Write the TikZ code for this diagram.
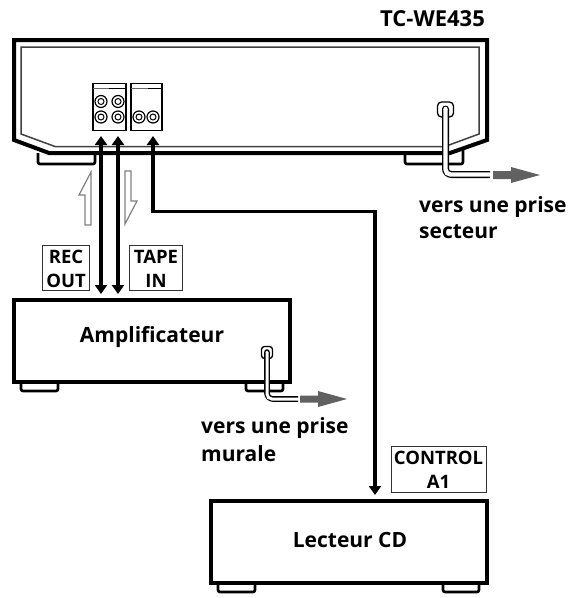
\documentclass[tikz,border=0pt]{standalone}
\usepackage{fontspec}
\setmainfont{Open Sans}
\usetikzlibrary{arrows.meta}
\tikzset{
  x=1pt,y=-1pt,
  heavy/.style={line width=4pt,line join=miter},
  foot/.style={line width=2.6pt,rounded corners=2pt},
  thin line/.style={line width=1.5pt,draw=black!75},
  conn/.style={line width=3.2pt,{Triangle[width=12pt,length=9pt]}-{Triangle[width=12pt,length=9pt]}},
  tag/.style={draw=black!80,line width=1pt,fill=white,inner sep=0pt,outer sep=0pt,align=center},
  txt/.style={font=\fontsize{21}{26}\selectfont\bfseries,inner sep=0pt},
  tagtxt/.style={font=\fontsize{18.5}{24}\selectfont\bfseries,inner sep=0pt},
  hollow/.style={draw=black!50,line width=1.2pt,fill=white,line join=miter},
  cordo/.style={line width=7pt,draw=black,rounded corners=6pt},
  cordi/.style={line width=4.4pt,draw=white,rounded corners=5pt},
  plug/.style={draw=black,line width=1.3pt,fill=white,rounded corners=4pt,inner sep=0pt,outer sep=0pt},
  grey arrow/.style={draw=none,fill=black!62},
  jack/.style={circle,draw=black,line width=1.2pt,minimum size=12pt,inner sep=0pt,outer sep=0pt,fill=white},
  jackin/.style={circle,draw=black,line width=1pt,minimum size=6pt,inner sep=0pt,outer sep=0pt},
  panel/.style={draw=black,line width=1.2pt,fill=white,inner sep=0pt,outer sep=0pt},
  unit/.style={heavy,draw,fill=white,minimum width=276pt,minimum height=82pt,inner sep=0pt,outer sep=0pt},
}
\newcommand{\jackat}[3]{\node[jack] (#1) at (#2,#3) {}; \node[jackin] at (#1.center) {};}
\begin{document}
\begin{tikzpicture}
\useasboundingbox (0,0) rectangle (571,598);
% main unit
\draw[foot] (38,153) -- (38,164) -- (95,164) -- (95,153);
\draw[foot] (405,153) -- (405,164) -- (463,164) -- (463,150);
\draw[heavy,fill=white] (14,40) -- (487,40) -- (487,140) -- (450,153) -- (49,153) -- (14,140) -- cycle;
\draw[thin line] (21,47) -- (479,47) -- (479,134) -- (445,146.5) -- (55,146.5) -- (21,134) -- cycle;
% panels
\node[panel,minimum width=33pt,minimum height=47pt] (p1) at (109.5,107) {};
\node[panel,minimum width=31pt,minimum height=47pt] (p2) at (146.5,107) {};
\draw[line width=1.2pt,black!60] (p1.west|-0,88.5) -- (109,88.5);
\draw[line width=1.6pt] (109,88.5) -- (p1.east|-0,88.5);
\draw[line width=1.2pt,black!60] (p2.west|-0,88.5) -- (148,88.5);
\draw[line width=1.6pt] (148,88.5) -- (p2.east|-0,88.5);
\jackat{a}{101}{101.5}\jackat{b}{118}{101.5}\jackat{c}{101}{117}\jackat{d}{118}{117}
\jackat{e}{139}{117}\jackat{f}{153}{117}
\node[txt,font=\fontsize{22}{26}\selectfont\bfseries,anchor=base] (title) at (432.5,26) {TC-WE435};
% amplifier
\draw[foot] (21,382) -- (21,391) -- (58,391) -- (58,382);
\draw[foot] (246,382) -- (246,391) -- (283,391) -- (283,382);
\node[unit] (amp) at (152,341) {};
\node[txt,anchor=base] (amplabel) at (152,342) {Amplificateur};
% cd
\draw[foot] (218,583) -- (218,592) -- (255,592) -- (255,583);
\draw[foot] (443,583) -- (443,592) -- (479,592) -- (479,583);
\node[unit] (cd) at (349,542) {};
\node[txt,anchor=base] (cdlabel) at (350,547) {Lecteur CD};
% connectors
\coordinate (t1) at (101,136); \coordinate (b1) at (101,294);
\coordinate (t2) at (118,136); \coordinate (b2) at (118,294);
\coordinate (t3) at (153,136); \coordinate (c3a) at (153,211.5); \coordinate (c3b) at (375,211.5); \coordinate (b3) at (375,495);
\draw[conn] (t1) -- (b1);
\draw[conn] (t2) -- (b2);
\draw[conn,line join=miter] (t3) -- (c3a) -- (c3b) -- (b3);
% hollow arrows
\draw[hollow] (91,172) -- (79,195) -- (85,195) -- (85,225) -- (91,225) -- cycle;
\draw[hollow] (125,171) -- (131,171) -- (131,201) -- (137,201) -- (125,224) -- cycle;
% tags
\node[tag,minimum width=47pt,minimum height=45pt] (rec) at (66,268) {};
\node[tagtxt,anchor=base] at (66,263) {REC};
\node[tagtxt,anchor=base] at (66,287) {OUT};
\node[tag,minimum width=53pt,minimum height=45pt] (tape) at (156,268) {};
\node[tagtxt,anchor=base] at (156,263) {TAPE};
\node[tagtxt,anchor=base] at (156,287) {IN};
\node[tag,minimum width=95pt,minimum height=46pt] (ctl) at (438.5,469) {};
\node[tagtxt,anchor=base] at (438.5,464) {CONTROL};
\node[tagtxt,anchor=base] at (438.5,488) {A1};
% cords
\node[plug,minimum width=16pt,minimum height=15pt] (plug1) at (445.5,109.5) {};
\coordinate (c1a) at (445.5,109); \coordinate (c1b) at (445.5,174.5); \coordinate (c1c) at (490,174.5);
\fill (c1a) circle[radius=3.5pt];
\draw[cordo] (c1a) -- (c1b) -- (c1c);
\fill[white] (c1a) circle[radius=2.2pt];
\draw[cordi] (c1a) -- (c1b) -- ([xshift=1pt]c1c);
\path[grey arrow] (493,171) -- (511,171) -- (511,167) -- (540,175) -- (511,183) -- (511,179) -- (493,179) -- cycle;
\node[txt,anchor=base west] (s1) at (419,212) {vers une prise};
\node[txt,anchor=base west] (s2) at (419,238) {secteur};
\node[plug,minimum width=11pt,minimum height=12pt,rounded corners=3pt] (plug2) at (267,352.5) {};
\coordinate (c2a) at (267,352); \coordinate (c2b) at (267,399); \coordinate (c2c) at (298,399);
\fill (c2a) circle[radius=2.8pt];
\draw[cordo,line width=5.6pt] (c2a) -- (c2b) -- (c2c);
\fill[white] (c2a) circle[radius=1.5pt];
\draw[cordi,line width=3pt] (c2a) -- (c2b) -- ([xshift=1pt]c2c);
\path[grey arrow] (300,395.5) -- (318,395.5) -- (318,391) -- (347,399) -- (318,407) -- (318,402.5) -- (300,402.5) -- cycle;
\node[txt,anchor=base west] (m1) at (201,433) {vers une prise};
\node[txt,anchor=base west] (m2) at (201,461) {murale};
\end{tikzpicture}
\end{document}
